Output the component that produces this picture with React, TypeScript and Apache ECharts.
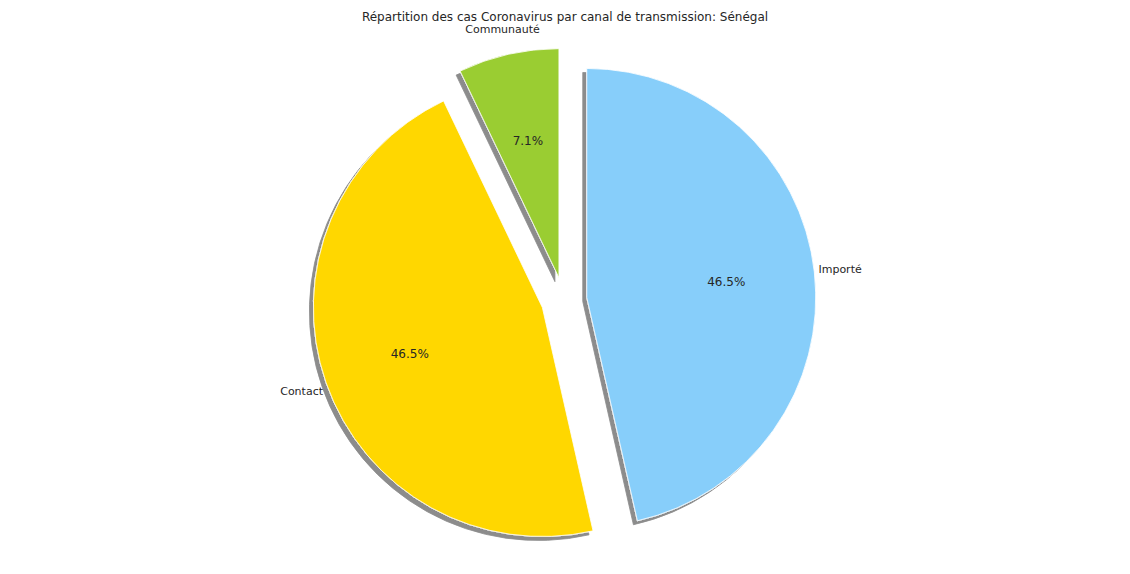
import React, { useEffect, useRef } from "react";
import * as echarts from "echarts";

const categories = ["Communauté", "Contact", "Importé"];
const values = [7.1, 46.45, 46.45];
const colors = ["#9ACD32", "#FFD700", "#87CEFA"];
const title = "Répartition des cas Coronavirus par canal de transmission: Sénégal";

export default function App() {
  const ref = useRef<HTMLDivElement>(null);
  useEffect(() => {
    document.body.style.margin = "0";
    const chart = echarts.init(ref.current!, null, { renderer: "svg" });
    const cx = 564, cy = 300, r = 229, explode = 0.1 * r;
    const total = values.reduce((a, b) => a + b, 0);
    const series: any[] = [];
    let cum = 0;
    values.forEach((v, i) => {
      const mid = 90 + ((cum + v / 2) / total) * 360;
      cum += v;
      const rad = (mid * Math.PI) / 180;
      const dx = Math.cos(rad), dy = -Math.sin(rad);
      const c = [cx + explode * dx, cy + explode * dy];
      const mk = (radius: number, visible: boolean, labelFn: any, align: string, size: number, z: number) => ({
        type: "pie",
        center: c,
        radius: [0, radius],
        startAngle: 90,
        clockwise: false,
        silent: true,
        z,
        avoidLabelOverlap: false,
        labelLine: { show: false },
        data: categories.map((name, j) => ({
          name,
          value: values[j],
          itemStyle:
            j === i && visible
              ? { color: colors[j], borderColor: "#fff", borderWidth: 0.8, shadowColor: "rgba(0,0,0,0.45)", shadowOffsetX: -4, shadowOffsetY: 4, shadowBlur: 0 }
              : { color: "transparent", borderWidth: 0 },
          label:
            j === i && labelFn
              ? { show: true, position: "inside", formatter: labelFn, align, color: "#262626", fontSize: size, fontFamily: "DejaVu Sans" }
              : { show: false },
        })),
      });
      series.push(mk(r, true, null, "center", 11, 1));
      series.push(mk(1.2 * r, false, (p: any) => p.percent.toFixed(1) + "%", "center", 12, 3));
      series.push(mk(2.2 * r, false, (p: any) => p.name, dx < 0 ? "right" : "left", 11, 3));
    });
    chart.setOption({
      animation: false,
      title: {
        text: title,
        left: "center",
        top: 6,
        textStyle: { fontSize: 12, fontWeight: "normal", color: "#262626", fontFamily: "DejaVu Sans" },
      },
      series,
    });
    return () => chart.dispose();
  }, []);
  return <div ref={ref} style={{ width: 1130, height: 574 }} />;
}
